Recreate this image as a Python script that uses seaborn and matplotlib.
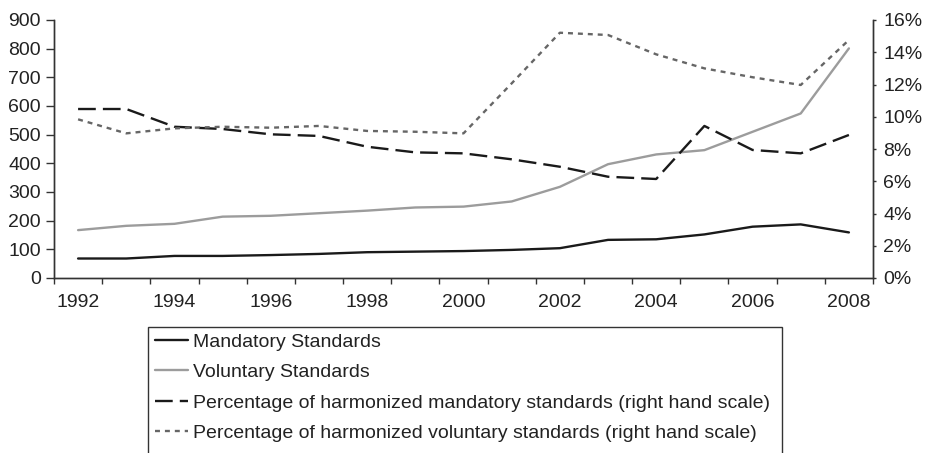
import numpy as np
import matplotlib
matplotlib.use("Agg")
import matplotlib.pyplot as plt
from matplotlib.patches import Rectangle
from matplotlib.ticker import FuncFormatter, MultipleLocator, FixedLocator
import seaborn as sns

years = list(range(1992, 2009))
mandatory = [68, 68, 77, 77, 80, 84, 90, 92, 94, 98, 104, 133, 135, 152, 179, 187, 159]
voluntary = [167, 182, 189, 214, 217, 226, 235, 246, 249, 267, 318, 397, 431, 446, 510, 574, 801]
pct_mandatory = [10.48, 10.48, 9.38, 9.24, 8.91, 8.81, 8.14, 7.79, 7.73, 7.36, 6.90, 6.28, 6.14, 9.43, 7.94, 7.73, 8.87]
pct_voluntary = [9.84, 8.97, 9.28, 9.38, 9.32, 9.43, 9.12, 9.07, 8.97, 12.07, 15.21, 15.07, 13.87, 13.00, 12.45, 11.97, 14.76]

labels = ["Mandatory Standards",
          "Voluntary Standards",
          "Percentage of harmonized mandatory standards (right hand scale)",
          "Percentage of harmonized voluntary standards (right hand scale)"]

sns.set_style("white")
plt.rcParams['font.family'] = ['Liberation Sans', 'DejaVu Sans']

W, H = 927, 453
fig = plt.figure(figsize=(W / 100, H / 100), dpi=100)
left, right, top, bottom = 54, 873, 20, 278
ax = fig.add_axes([left / W, 1 - bottom / H, (right - left) / W, (bottom - top) / H])
ax2 = ax.twinx()

x = np.arange(len(years))
lw = 1.7
sns.lineplot(x=x, y=mandatory, ax=ax, color="#1a1a1a", lw=lw, label=labels[0], legend=False)
sns.lineplot(x=x, y=voluntary, ax=ax, color="#9c9c9c", lw=lw, label=labels[1], legend=False)
sns.lineplot(x=x, y=pct_mandatory, ax=ax2, color="#1a1a1a", lw=lw, label=labels[2], legend=False)
sns.lineplot(x=x, y=pct_voluntary, ax=ax2, color="#666666", lw=lw, label=labels[3], legend=False)
ax2.lines[0].set_dashes((7.5, 3))
ax2.lines[1].set_dashes((2.1, 2.1))
for ln in ax2.lines:
    ln.set_dash_capstyle("butt")

ax.set_xlim(-0.5, len(years) - 0.5)
ax.set_ylim(0, 900)
ax2.set_ylim(0, 16)
ax.yaxis.set_major_locator(MultipleLocator(100))
ax2.yaxis.set_major_locator(MultipleLocator(2))
ax2.yaxis.set_major_formatter(FuncFormatter(lambda v, p: f"{v:.0f}%"))

# category axis: ticks between categories, labels at every other category
ax.xaxis.set_major_locator(FixedLocator(np.arange(-0.5, len(years), 1.0)))
ax.xaxis.set_minor_locator(FixedLocator(x[::2]))
ax.set_xticklabels([])
ax.set_xticklabels([str(y) for y in years[::2]], minor=True)
ax.tick_params(axis="x", which="major", direction="out", length=4, width=1, color="#333333", bottom=True)
ax.tick_params(axis="x", which="minor", length=0, labelsize=14, pad=11.5, labelcolor="#222222")
ax.tick_params(axis="y", direction="out", length=5.5, width=1, color="#333333", left=True,
               labelsize=14, labelcolor="#222222", pad=4)
ax2.tick_params(axis="y", direction="out", length=2.5, width=1, color="#333333", right=True,
                labelsize=14, labelcolor="#222222", pad=5)

for a in (ax, ax2):
    a.spines["top"].set_visible(False)
    for s in ("left", "right", "bottom"):
        a.spines[s].set_color("#333333")
        a.spines[s].set_linewidth(1)
ax.set_xlabel("")
ax.set_ylabel("")
ax2.set_ylabel("")

handles = ax.lines[:2] + ax2.lines[:2]
leg = fig.legend(handles, labels, loc="upper left",
                 bbox_to_anchor=(155 / W, 1 - 333 / H), bbox_transform=fig.transFigure,
                 frameon=False, fontsize=14, handlelength=1.7, handletextpad=0.26,
                 labelspacing=0.66, borderpad=0, borderaxespad=0)
for t in leg.get_texts():
    t.set_color("#222222")

fig.add_artist(Rectangle((148 / W, -0.05), (782 - 148) / W, 1 - 327 / H + 0.05,
                         transform=fig.transFigure, fill=False, edgecolor="#333333",
                         linewidth=1, clip_on=False))

fig.savefig("out.png", dpi=100)
